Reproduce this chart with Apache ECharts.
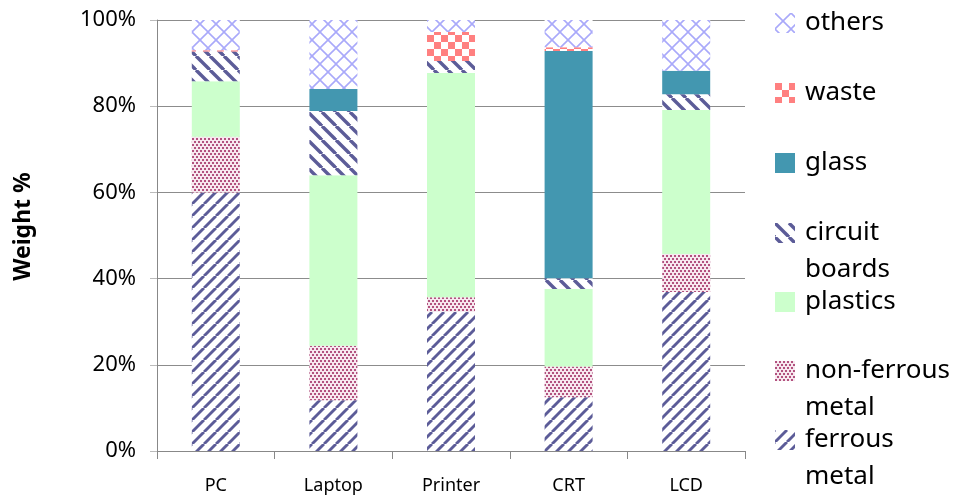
<!DOCTYPE html>
<html>
<head>
<meta charset="utf-8">
<script src="https://cdn.jsdelivr.net/npm/echarts@6/dist/echarts.min.js"></script>
<style>html,body{margin:0;padding:0;background:#fff;}#chart{width:961px;height:496px;}</style>
</head>
<body>
<div id="chart"></div>
<script>
const categories = ['PC', 'Laptop', 'Printer', 'CRT', 'LCD'];
const ferrousMetal = [60.0, 11.8, 32.3, 12.5, 36.9];
const nonFerrousMetal = [12.9, 12.6, 3.4, 7.1, 8.8];
const plasticsData = [12.9, 39.6, 52.0, 18.0, 33.4];
const circuitBoards = [6.9, 14.9, 2.8, 2.5, 3.7];
const glassData = [0, 5.1, 0, 52.7, 5.4];
const wasteData = [0.3, 0, 6.7, 0.9, 0];
const othersData = [7.0, 16.0, 2.8, 6.3, 11.8];
const yTicks = [0, 20, 40, 60, 80, 100];
const seriesNames = ['ferrous metal', 'non-ferrous metal', 'plastics', 'circuit boards', 'glass', 'waste', 'others'];
const legendLabels = ['ferrous\nmetal', 'non-ferrous\nmetal', 'plastics', 'circuit\nboards', 'glass', 'waste', 'others'];

const FONT = 'Noto Sans';

function tile(w, h, draw) {
  const c = document.createElement('canvas');
  c.width = w; c.height = h;
  const ctx = c.getContext('2d');
  ctx.fillStyle = '#ffffff';
  ctx.fillRect(0, 0, w, h);
  draw(ctx, w, h);
  return { image: c, repeat: 'repeat' };
}
function stripes(s, lw, color, forward) {
  return tile(s, s, function (ctx) {
    ctx.strokeStyle = color; ctx.lineWidth = lw;
    for (let k = -1; k <= 1; k++) {
      ctx.beginPath();
      if (forward) { ctx.moveTo(k * s, s); ctx.lineTo(k * s + s, 0); }
      else { ctx.moveTo(k * s, 0); ctx.lineTo(k * s + s, s); }
      ctx.stroke();
    }
  });
}
const patFerrous = stripes(12, 2.9, '#5c5c98', true);
const patCircuit = stripes(14, 3.4, '#5c5c98', false);
const patNonFerrous = tile(4, 6, function (ctx) {
  ctx.fillStyle = '#f7e8ef'; ctx.fillRect(0, 0, 4, 6);
  ctx.fillStyle = '#b2527f';
  ctx.fillRect(0, 0, 2, 2);
  ctx.fillRect(2, 3, 2, 2);
});
const patWaste = tile(14, 14, function (ctx) {
  ctx.fillStyle = '#ff8080';
  ctx.fillRect(0, 0, 7, 7);
  ctx.fillRect(7, 7, 7, 7);
});
const patOthers = tile(16, 16, function (ctx) {
  ctx.strokeStyle = '#a9a9fa'; ctx.lineWidth = 1.6;
  ctx.beginPath(); ctx.moveTo(0, 0); ctx.lineTo(16, 16); ctx.stroke();
  ctx.beginPath(); ctx.moveTo(0, 16); ctx.lineTo(16, 0); ctx.stroke();
});

const seriesData = [ferrousMetal, nonFerrousMetal, plasticsData, circuitBoards, glassData, wasteData, othersData];
const seriesColors = [patFerrous, patNonFerrous, '#ccffcc', patCircuit, '#4397b0', patWaste, patOthers];

const series = seriesNames.map(function (n, i) {
  return {
    name: n, type: 'bar', stack: 'total', barWidth: 48,
    data: seriesData[i],
    itemStyle: { color: seriesColors[i] },
    emphasis: { disabled: true }
  };
});

// legend: top to bottom others..ferrous; icon centre rows
const legendOrder = [6, 5, 4, 3, 2, 1, 0];
const legendCentres = [21, 91, 161, 231, 300, 369, 438];
const legends = legendOrder.map(function (si, j) {
  const twoLine = legendLabels[si].indexOf('\n') >= 0;
  return {
    data: [seriesNames[si]],
    left: 775,
    top: legendCentres[j] - (twoLine ? 53.5 : 16.5),
    orient: 'vertical',
    icon: 'rect',
    itemWidth: 20, itemHeight: 20,
    padding: 0,
    selectedMode: false,
    formatter: function () { return twoLine ? '\u00a0\n' + legendLabels[si] : legendLabels[si]; },
    textStyle: {
      fontFamily: FONT, fontSize: 26, color: '#000', lineHeight: 37,
      padding: [0, 0, 0, 5]
    }
  };
});

const chart = echarts.init(document.getElementById('chart'), null, { renderer: 'canvas' });
chart.setOption({
  animation: false,
  backgroundColor: '#ffffff',
  grid: { left: 157, right: 216, top: 20, bottom: 45, containLabel: false },
  legend: legends,
  xAxis: {
    type: 'category', data: categories,
    axisLine: { lineStyle: { color: '#888888', width: 1 } },
    axisTick: { show: true, length: 8, lineStyle: { color: '#888888' } },
    axisLabel: { fontFamily: FONT, fontSize: 18, color: '#000', margin: 26 }
  },
  yAxis: {
    type: 'value', min: yTicks[0], max: yTicks[yTicks.length - 1], interval: 20,
    name: 'Weight %', nameLocation: 'middle', nameGap: 122,
    nameTextStyle: { fontFamily: FONT, fontSize: 23, fontWeight: 'bold', color: '#000', padding: [0, 0, 0, 18] },
    axisLine: { show: true, lineStyle: { color: '#888888' } },
    axisTick: { show: true, length: 7, lineStyle: { color: '#bbbbbb' } },
    splitLine: { show: true, lineStyle: { color: '#8c8c8c', width: 1 } },
    axisLabel: { fontFamily: FONT, fontSize: 22, color: '#000', margin: 21, formatter: '{value}%' }
  },
  series: series
});
</script>
</body>
</html>
